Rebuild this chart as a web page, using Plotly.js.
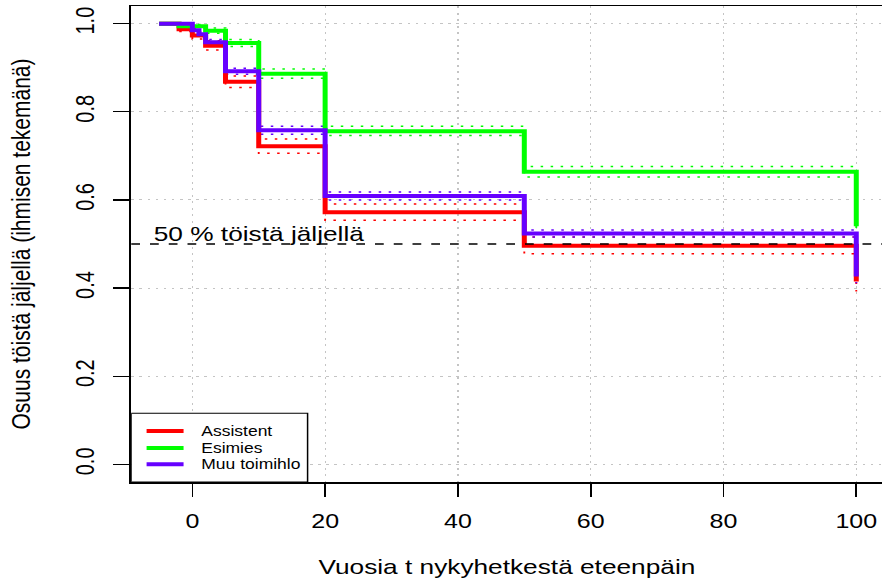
<!DOCTYPE html>
<html>
<head>
<meta charset="utf-8">
<script src="https://cdn.plot.ly/plotly-3.0.1.min.js"></script>
<style>
  html, body { margin: 0; padding: 0; background: #ffffff; }
  #wrap { width: 882px; height: 578px; overflow: hidden; position: relative; }
  #plot { width: 705.6px; height: 578px; transform: scaleX(1.25); transform-origin: 0 0; }
</style>
</head>
<body>
<div id="wrap"><div id="plot"></div></div>
<script>
// ---- Data ----
const groupNames = ["Assistent", "Esimies", "Muu toimihlo"];
const groupColors = ["#ff0000", "#00ff00", "#6600ff"];

const timesAssistent = [-5, -2, 0, 2, 5, 10, 20, 50, 100];
const survAssistent  = [1, 0.987, 0.973, 0.950, 0.868, 0.722, 0.572, 0.496, 0.415];
const upperAssistent = [1, 0.992, 0.981, 0.961, 0.881, 0.738, 0.591, 0.516, 0.440];
const lowerAssistent = [1, 0.982, 0.965, 0.940, 0.855, 0.706, 0.554, 0.478, 0.392];

const timesEsimies = [-5, -2, 2, 5, 10, 20, 50, 100];
const survEsimies  = [1, 0.994, 0.984, 0.956, 0.886, 0.756, 0.664, 0.540];
const upperEsimies = [1, 0.998, 0.990, 0.964, 0.897, 0.767, 0.676, 0.560];
const lowerEsimies = [1, 0.990, 0.978, 0.948, 0.876, 0.746, 0.652, 0.520];

const timesMuu = [-5, 0, 1, 2, 5, 10, 20, 50, 100];
const survMuu  = [1, 0.985, 0.976, 0.958, 0.892, 0.758, 0.609, 0.524, 0.426];
const upperMuu = [1, 0.989, 0.981, 0.964, 0.899, 0.767, 0.618, 0.532, 0.441];
const lowerMuu = [1, 0.981, 0.971, 0.952, 0.885, 0.749, 0.600, 0.516, 0.411];

const xTicks = [0, 20, 40, 60, 80, 100];
const yTicks = [0, 0.2, 0.4, 0.6, 0.8, 1.0];
const yTickText = ["0.0", "0.2", "0.4", "0.6", "0.8", "1.0"];
const halfLevel = 0.5;
const halfLabel = "50 % töistä jäljellä";
const xTitle = "Vuosia t nykyhetkestä eteenpäin";
const yTitle = "Osuus töistä jäljellä (ihmisen tekemänä)";

// ---- Build traces ----
const groups = [
  {t: timesAssistent, s: survAssistent, u: upperAssistent, l: lowerAssistent},
  {t: timesEsimies, s: survEsimies, u: upperEsimies, l: lowerEsimies},
  {t: timesMuu, s: survMuu, u: upperMuu, l: lowerMuu}
];
const FONT = "Liberation Sans, Arial, Helvetica, sans-serif";
const traces = [];
groups.forEach((g, i) => {
  [g.u, g.l].forEach(band => {
    traces.push({
      x: g.t, y: band, type: "scatter", mode: "lines",
      line: {shape: "hv", color: groupColors[i], width: 1.5, dash: "2px,6px"},
      showlegend: false, hoverinfo: "skip"
    });
  });
});
groups.forEach((g, i) => {
  traces.push({
    x: g.t, y: g.s, type: "scatter", mode: "lines", name: groupNames[i],
    line: {shape: "hv", color: groupColors[i], width: 4}, showlegend: false
  });
});

// ---- Legend box drawn in R style (bottom-left, framed) ----
const legTop = 0.116;            // y value of legend frame top
const legRight = 17.36;          // x value of legend frame right edge
const legRowsY = [0.0757, 0.037, 0.0];
const legLineX = [-6.89, -1.32];
const legTextX = 1.09;

const shapes = [{
  type: "line", xref: "paper", x0: 0, x1: 1, yref: "y", y0: halfLevel, y1: halfLevel,
  line: {color: "#000000", width: 1.3, dash: "7px,8px"}, layer: "above"
}, {
  type: "rect", xref: "paper", x0: 0, x1: 0, yref: "paper", y0: 0, y1: 0,
  line: {width: 0}
}];
shapes.push({
  type: "rect", xref: "x", yref: "y", x0: -9.2, x1: legRight, y0: -0.04, y1: legTop,
  fillcolor: "#ffffff", line: {color: "#000000", width: 1.2}, layer: "above"
});
const annotations = [{
  x: -6, y: halfLevel, xref: "x", yref: "y", xanchor: "left", yanchor: "bottom",
  text: halfLabel, showarrow: false, borderpad: 0, yshift: -2,
  font: {family: FONT, size: 21, color: "#000000"}
}];
groupNames.forEach((nm, i) => {
  shapes.push({
    type: "line", xref: "x", yref: "y", x0: legLineX[0], x1: legLineX[1],
    y0: legRowsY[i], y1: legRowsY[i],
    line: {color: groupColors[i], width: 4}, layer: "above"
  });
  annotations.push({
    x: legTextX, y: legRowsY[i], xref: "x", yref: "y", xanchor: "left", yanchor: "middle",
    text: nm, showarrow: false, borderpad: 0,
    font: {family: FONT, size: 14, color: "#000000"}
  });
});

const layout = {
  width: 705.6, height: 578,
  margin: {l: 104.6, r: 0, t: 6.4, b: 96.4, pad: 0},
  paper_bgcolor: "#ffffff", plot_bgcolor: "#ffffff",
  font: {family: FONT, color: "#000000"},
  showlegend: false,
  xaxis: {
    range: [-9.2, 103.95], tickvals: xTicks, ticks: "outside", ticklen: 13,
    tickwidth: 1.3, tickcolor: "#000000", ticklabelstandoff: 8,
    showline: true, linecolor: "#000000", linewidth: 1.5, mirror: true,
    showgrid: true, gridcolor: "#c4c4c4", gridwidth: 1, griddash: "2px,4.5px",
    zeroline: false, tickfont: {family: FONT, size: 20},
    title: {text: xTitle, font: {family: FONT, size: 21}, standoff: 29},
    automargin: false
  },
  yaxis: {
    range: [-0.04, 1.04], tickvals: yTicks, ticktext: yTickText, tickangle: -90,
    ticks: "outside", ticklen: 13, tickwidth: 1.3, tickcolor: "#000000",
    ticklabelstandoff: 7,
    showline: true, linecolor: "#000000", linewidth: 1.5,
    showgrid: true, gridcolor: "#c4c4c4", gridwidth: 1, griddash: "2px,4.5px",
    zeroline: false, tickfont: {family: FONT, size: 20},
    title: {text: yTitle, font: {family: FONT, size: 21}, standoff: 27},
    automargin: false
  },
  shapes: shapes,
  annotations: annotations
};

Plotly.newPlot("plot", traces, layout, {displayModeBar: false, staticPlot: true});
</script>
</body>
</html>
